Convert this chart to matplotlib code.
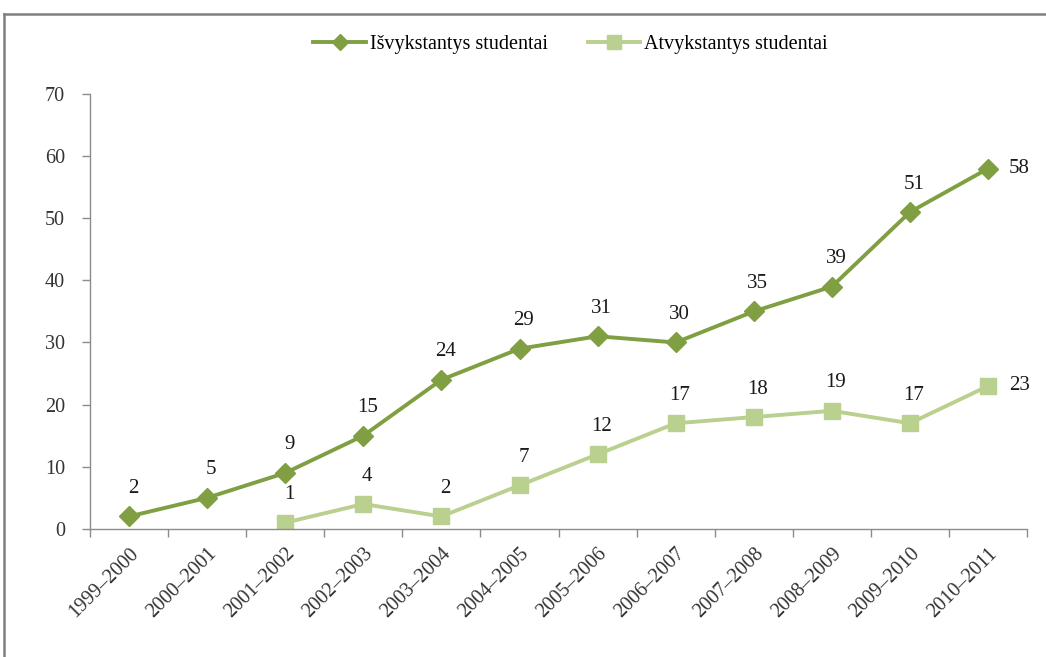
import numpy as np
import matplotlib
matplotlib.use('Agg')
import matplotlib.pyplot as plt
from matplotlib.lines import Line2D

plt.rcParams['font.family'] = ['Liberation Serif', 'DejaVu Serif']

years = ['1999–2000', '2000–2001', '2001–2002', '2002–2003', '2003–2004',
         '2004–2005', '2005–2006', '2006–2007', '2007–2008', '2008–2009',
         '2009–2010', '2010–2011']
isvyk = [2, 5, 9, 15, 24, 29, 31, 30, 35, 39, 51, 58]
atvyk = [np.nan, np.nan, 1, 4, 2, 7, 12, 17, 18, 19, 17, 23]

dark = '#7F9F42'
light = '#B9D08F'
gray = '#8C8C8C'

fig = plt.figure(figsize=(10.46, 6.57), dpi=100)
ax = fig.add_axes([0.086, 0.195, 0.896, 0.662])

x = np.arange(len(years))
ax.plot(x, isvyk, color=dark, lw=2.8, marker='D', ms=10, mec=dark,
        label='Išvykstantys studentai')
ax.plot(x, atvyk, color=light, lw=2.8, marker='s', ms=12, mec=light,
        label='Atvykstantys studentai')

for series in (isvyk, atvyk):
    n = len(series)
    for i, v in enumerate(series):
        if np.isnan(v):
            continue
        if i == n - 1:
            ax.annotate(str(int(v)), (i, v), xytext=(31, 0), textcoords='offset pixels',
                        ha='center', va='center', fontsize=15, color='#1a1a1a')
        else:
            ax.annotate(str(int(v)), (i, v), xytext=(4, 28), textcoords='offset pixels',
                        ha='center', va='center', fontsize=15, color='#1a1a1a')

ax.set_xlim(-0.5, len(years) - 0.5)
ax.set_ylim(0, 70)
ax.set_yticks(range(0, 71, 10))
ax.set_xticks(x)
ax.set_xticklabels(years, rotation=45, ha='right', va='top', rotation_mode='anchor')
ax.set_xticks(np.arange(-0.5, len(years), 1), minor=True)
ax.tick_params(axis='x', which='major', length=0, pad=11, labelsize=14.5, labelcolor='#333333')
ax.tick_params(axis='x', which='minor', length=6, width=1, color=gray, direction='out')
ax.tick_params(axis='y', length=6, width=1, color=gray, pad=12, labelsize=14.5, labelcolor='#333333')

for s in ('top', 'right'):
    ax.spines[s].set_visible(False)
for s in ('left', 'bottom'):
    ax.spines[s].set_color(gray)
    ax.spines[s].set_linewidth(1)

ax.legend(loc='center', bbox_to_anchor=(0.513, 1.113), ncol=2, frameon=False,
          fontsize=14.5, handlelength=2.6, columnspacing=2.0, handletextpad=0.2,
          markerscale=0.8)

# outer frame (top and left edge)
fig.add_artist(Line2D([0.004, 1.0], [1 - 14 / 657, 1 - 14 / 657], color='#808080', lw=1.8))
fig.add_artist(Line2D([0.004, 0.004], [0.0, 1 - 14 / 657], color='#808080', lw=1.8))

fig.savefig('out.png', dpi=100)
